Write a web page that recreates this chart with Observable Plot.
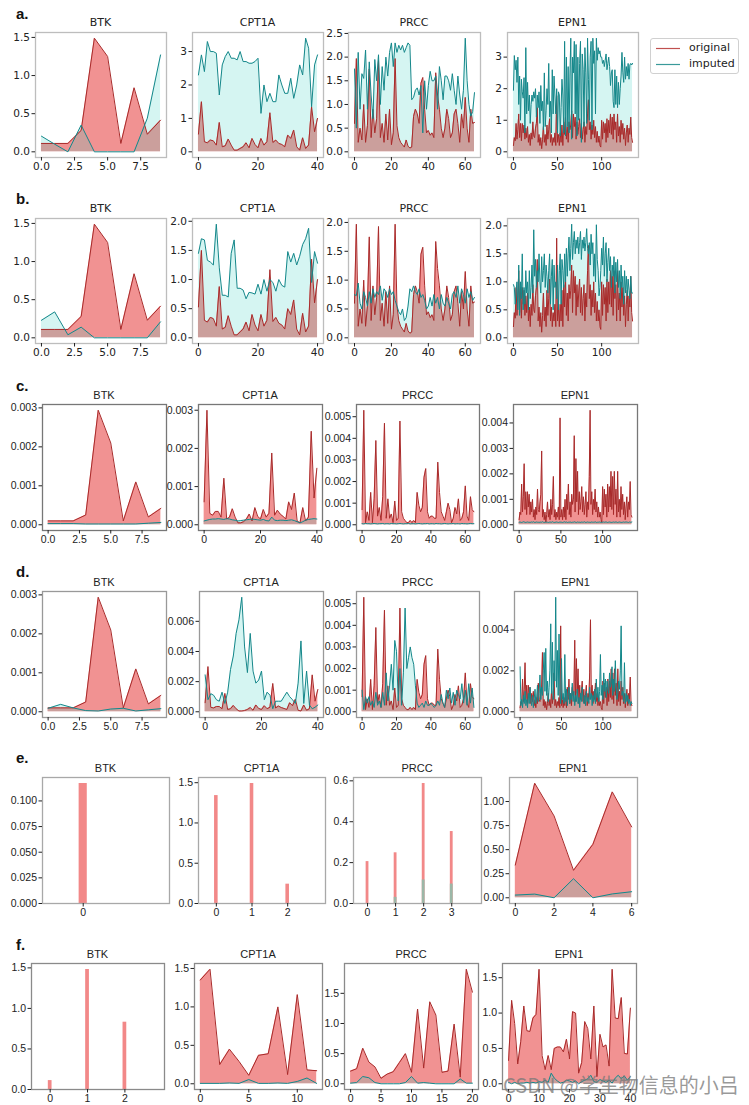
<!DOCTYPE html>
<html><head><meta charset="utf-8">
<script src="https://cdn.jsdelivr.net/npm/d3@7"></script>
<script src="https://cdn.jsdelivr.net/npm/@observablehq/plot@0.6"></script>
<style>
body{margin:0;background:#fff;}
#wrap{position:relative;width:749px;height:1105px;overflow:hidden;font-family:"DejaVu Sans",sans-serif;background:#fff;}
.panel{position:absolute;}
.ttl{position:absolute;line-height:12px;color:#222;text-align:center;}
.lbl{position:absolute;font:bold 15px "Liberation Sans",Arial,sans-serif;color:#111;}
.legend{position:absolute;border:1px solid #d0d0d0;border-radius:3px;background:#fff;font-size:11px;color:#222;font-family:"DejaVu Sans",sans-serif;}
.wm{position:absolute;font-family:"Noto Sans CJK SC",sans-serif;font-size:20px;color:rgba(120,120,120,0.75);white-space:nowrap;}
</style></head><body><div id="wrap"></div>
<script>
// ---------- labels ----------
const genes = ["BTK","CPT1A","PRCC","EPN1"];
const rowLabels = ["a.","b.","c.","d.","e.","f."];
const legendLabels = ["original","imputed"];
const watermark = "CSDN @学生物信息的小吕";

// ---------- rows a / b ----------
const btkOrigAB = [0.11,0.11,0.11,0.28,1.49,1.25,0.11,0.84,0.23,0.415];
const btkImpA   = [0.205,0.1,0,0.35,0,0,0,0,0.44,1.27];
const btkImpB   = [0.23,0.34,0.04,0.14,0,0,0,0,0,0.21];

const cptOrigAB = [0.53,1.5,0.3,0.27,0.35,0.33,0.2,0.88,0.15,0.18,
  0.38,0.2,0.05,0.05,0.1,0.15,0.27,0.12,0.4,0.22,
  0.12,0.4,0.2,0.3,1.17,0.28,0.35,0.25,0.22,0.15,
  0.5,0.4,0.65,0.15,0.05,0.42,0.1,0.2,1.35,0.6,1.0];
const cptImpA = [2.3,2.9,2.4,3.3,3.0,3.0,2.95,1.7,2.6,2.85,
  3.0,2.8,2.8,2.75,3.0,2.7,2.7,2.65,2.65,2.7,
  2.8,1.15,2.0,1.5,1.75,1.5,1.5,2.3,2.0,1.75,
  1.75,2.2,1.6,2.0,2.6,2.3,3.4,3.1,1.35,2.6,2.9];
const cptImpB = [1.45,1.7,1.68,1.33,1.3,1.25,1.95,1.2,0.73,0.73,
  0.7,1.45,1.68,0.85,0.85,0.82,0.67,0.78,0.77,0.75,
  0.92,0.75,1.0,0.8,1.0,0.95,0.8,1.0,0.9,0.87,
  1.48,1.3,1.45,1.25,1.4,1.6,1.7,1.88,0.95,1.48,1.28];

const prccOrigAB = [0.6,1.97,0.2,0.5,0.25,1.0,0.2,0.55,1.75,0.3,
  0.9,0.4,0.7,1.93,0.3,0.6,0.2,0.8,0.25,0.9,
  0.15,0.4,1.97,0.55,0.3,0.2,0.15,0.1,0.25,0.12,
  0.08,0.1,0.75,0.9,0.8,0.6,1.45,1.57,0.9,0.4,
  0.45,0.35,0.4,0.3,1.67,1.2,0.9,0.5,0.3,0.5,
  0.9,0.7,0.3,0.4,0.8,0.9,0.6,0.2,0.8,0.5,
  1.15,0.5,0.2,0.9,0.6,0.62];
const prccImpA = [1.75,0.5,2.1,0.9,1.65,1.55,2.15,0.9,1.9,1.2,
  0.7,1.95,1.5,2.05,1.0,1.8,1.3,2.0,1.6,2.1,
  2.3,1.8,2.3,2.1,2.25,2.15,2.25,2.1,2.2,2.3,
  2.25,1.1,1.15,1.3,1.35,1.2,1.4,0.4,1.5,0.9,
  1.4,1.7,1.5,1.5,1.6,0.9,1.8,1.5,1.1,1.6,
  1.6,1.5,1.3,1.65,1.3,1.0,1.6,1.2,0.9,1.3,
  2.4,1.5,1.0,0.75,0.85,1.25];
const prccImpB = [0.75,0.73,0.95,0.6,0.5,0.8,0.7,0.55,0.8,0.6,
  0.85,0.7,0.8,0.75,0.9,0.65,0.85,0.8,0.7,0.85,
  0.75,0.8,0.65,0.55,0.45,0.4,0.5,0.3,0.35,0.55,
  0.85,0.8,0.9,0.8,0.75,0.85,0.7,0.75,0.65,0.5,
  0.55,0.7,0.55,0.75,0.6,0.7,0.5,0.75,0.6,0.55,
  0.7,0.6,0.5,0.75,0.8,0.7,0.9,0.6,0.85,0.75,
  0.6,0.85,0.7,0.8,0.65,0.7];

const epnOrigAB = [0.2,0.45,0.35,0.9,0.4,0.7,1.2,0.45,0.9,0.35,
  0.9,0.6,0.85,0.4,0.75,0.45,0.8,0.3,0.55,0.2,
  0.6,0.4,0.95,0.5,0.45,0.75,0.9,1.4,0.3,0.55,
  0.2,0.45,0.1,0.4,0.8,0.3,0.55,0.2,0.85,0.4,
  0.7,1.05,0.3,0.55,0.2,0.45,0.3,0.6,0.2,1.78,
  0.3,0.55,0.2,0.6,0.3,0.85,0.2,0.95,0.55,1.1,
  0.4,0.8,0.3,0.95,0.7,0.85,1.3,0.45,1.2,0.8,
  1.1,0.4,0.95,0.55,0.8,1.05,0.45,0.9,0.4,0.7,
  0.95,0.3,0.8,0.55,1.2,1.65,0.7,0.95,0.4,0.85,
  0.55,1.0,0.45,0.8,0.3,0.65,0.3,0.5,0.2,0.15,
  1.0,0.4,0.95,0.6,0.9,0.3,1.05,0.45,1.0,0.6,
  1.2,0.55,1.1,0.4,1.2,0.7,0.95,0.3,1.2,0.5,
  0.8,0.3,1.0,0.55,0.9,0.4,0.75,0.2,0.6,0.85,
  0.3,0.75,0.55,1.1,0.45,0.3];
const epnImpA = [1.95,3.05,2.6,2.9,2.2,3.0,1.5,2.4,1.0,2.3,
  1.9,1.7,2.35,0.6,3.3,1.2,2.2,1.3,1.8,0.9,
  1.5,1.8,1.6,1.9,1.7,2.0,1.1,1.8,1.4,1.9,
  0.9,2.1,1.3,1.6,0.7,2.5,0.8,1.3,2.0,1.5,
  2.8,1.1,1.6,0.6,2.6,1.2,2.4,1.8,1.2,2.0,
  0.6,1.9,1.8,0.5,1.4,2.3,1.8,0.6,3.5,0.5,
  3.0,0.8,2.7,0.6,2.4,3.6,0.4,3.0,2.5,3.5,
  1.2,3.4,0.5,3.0,1.0,2.8,3.5,0.3,3.1,2.6,
  0.8,3.3,2.5,0.9,3.6,2.3,1.0,3.0,3.5,0.7,
  3.6,2.8,3.2,1.2,3.6,2.9,3.3,3.1,3.2,3.0,
  3.0,2.8,2.9,2.7,2.9,3.1,2.6,2.8,3.0,2.7,
  2.1,2.5,2.6,1.6,1.4,2.6,1.5,2.4,1.4,2.2,
  1.5,2.0,2.4,3.15,2.5,2.2,3.0,2.3,2.7,2.4,
  2.8,2.3,2.75,2.8,2.75,2.8];
const epnImpB = [0.95,0.9,0.6,0.85,1.0,0.5,1.3,0.4,1.0,0.7,
  1.5,0.5,0.9,0.6,1.2,0.8,1.0,0.5,1.2,0.7,
  0.9,1.3,0.8,1.93,1.1,1.4,0.9,1.2,1.0,1.5,
  1.0,0.8,1.45,1.0,1.2,1.5,0.9,1.3,1.1,0.8,
  1.2,1.5,0.6,1.1,1.4,0.5,1.3,0.9,1.0,0.7,
  1.3,0.5,1.2,1.5,0.6,1.4,1.2,0.9,1.5,1.0,
  1.6,1.1,1.5,1.8,1.2,1.6,2.03,1.4,1.7,1.9,
  1.5,1.75,1.6,1.8,1.5,1.7,1.9,1.4,1.75,1.6,
  1.8,1.55,1.7,1.95,1.6,1.5,1.7,1.3,1.85,1.5,
  1.7,1.1,1.5,1.0,2.02,1.4,1.2,0.75,0.9,1.2,
  1.6,1.3,1.8,1.1,1.5,1.7,1.0,1.35,1.6,1.2,
  1.45,0.9,1.3,1.1,1.45,0.8,1.35,1.0,1.4,0.9,
  1.2,0.7,1.3,0.9,1.1,0.6,1.2,0.8,1.1,0.75,
  1.05,0.85,0.7,1.1,0.8,0.8];

// ---------- rows c / d ----------
const btkOrigCD = [.0001,.0001,.0001,.00025,.00294,.0021,.0001,.0011,.0002,.00042];
const btkImpC   = [.00003,.00003,.00003,.00002,.00002,.00002,.00002,.00002,.00004,.00006];
const btkImpD   = [.00009,.00019,.0001,.00003,.00002,.00007,.00009,.00002,.00005,.00008];

const cptOrigCD = [.0006,.003,.0003,.00025,.00035,.00035,.0002,.00122,.00015,.0002,
  .00042,.0002,.00005,.00005,.00008,.00015,.00028,.0001,.00045,.00022,
  .00015,.0004,.0002,.0003,.00188,.00025,.00038,.00028,.00022,.00015,
  .0006,.0004,.00083,.0001,.00005,.00045,.0001,.0002,.00245,.0007,.00148];
const cptImpC = [.0001,.00012,.00014,.00015,.00015,.00016,.00015,.00014,.00016,.00015,
  .00013,.00012,.0001,.00011,.00012,.00013,.00014,.00015,.00014,.00013,
  .00012,.00014,.00011,.0001,.0002,.00012,.00011,.00012,.00012,.00011,
  .00012,.00013,.00011,.00008,.00005,.00008,.00012,.00014,.00015,.00016,.00015];
const cptImpD = [.00245,.0008,.0012,.0011,.0008,.0007,.0013,.00055,.0013,.0028,
  .0037,.0052,.0061,.0076,.0043,.0026,.0052,.0027,.0019,.0021,
  .0027,.0008,.0013,.0011,.0002,.0007,.0007,.0007,.001,.0013,
  .001,.0008,.00055,.0019,.0047,.00055,.0027,.00045,.0002,.0003,.00045];

const prccOrigCD = [.0007,.0053,.0001,.0006,.0002,.0015,.0001,.0012,.0039,.0004,
  .0008,.0002,.0013,.0047,.0003,.0012,.0003,.0005,.0001,.0011,
  .0002,.0003,.0048,.0006,.0003,.0002,.0001,.0001,.0002,.0001,
  .0002,.0001,.0015,.0009,.0006,.0008,.0022,.0026,.0006,.0003,
  .0004,.0004,.0003,.0003,.0029,.0015,.0006,.0004,.0002,.0006,
  .0010,.0007,.0001,.0003,.0008,.0005,.0012,.0002,.0003,.0006,
  .0018,.0004,.0002,.0013,.0007,.0006];
const prccImpC = [.00005,.00004,.00006,.00005,.00005,.00004,.00005,.00006,.00005,.00004,
  .00005,.00005,.00006,.00004,.00005,.00005,.00004,.00006,.00005,.00005,
  .00004,.00005,.00006,.00005,.00004,.00005,.00005,.00006,.00004,.00005,
  .00005,.00004,.00005,.00006,.00005,.00004,.00005,.00005,.00006,.00004,
  .00005,.00005,.00004,.00006,.00005,.00005,.00004,.00005,.00006,.00005,
  .00004,.00005,.00005,.00006,.00004,.00005,.00005,.00004,.00006,.00005,
  .00005,.00004,.00005,.00006,.00005,.00005];
const prccImpD = [.001,.0001,.0007,.0004,.0007,.0003,.0005,.0002,.0009,.0003,
  .0005,.0002,.0009,.0003,.0018,.0005,.0012,.0022,.0010,.0033,
  .0028,.0005,.0020,.0003,.0018,.0048,.0020,.0025,.0030,.0025,
  .0022,.0012,.0004,.0002,.0003,.0004,.0002,.0005,.0003,.0003,
  .0004,.0003,.0002,.0003,.0005,.0003,.0008,.0004,.0002,.0010,
  .0006,.0011,.0004,.0009,.0003,.0010,.0008,.0006,.0013,.0004,
  .0010,.0003,.0013,.0004,.0011,.0002];

const epnOrigCD = [.0002,.0005,.0004,.0016,.0005,.0011,.0024,.0006,.0013,.0004,
  .0013,.0007,.0012,.0004,.0009,.0005,.0010,.0003,.0006,.0002,
  .0007,.0004,.0014,.0006,.0005,.0009,.0012,.0029,.0003,.0006,
  .0002,.0005,.0001,.0004,.0009,.0003,.0006,.0002,.0010,.0004,
  .0008,.0019,.0003,.0006,.0002,.0005,.0003,.0007,.0002,.0042,
  .0003,.0006,.0002,.0007,.0003,.0010,.0002,.0012,.0006,.0016,
  .0004,.0009,.0003,.0012,.0008,.0010,.0035,.0005,.0026,.0009,
  .0021,.0004,.0013,.0006,.0009,.0015,.0005,.0011,.0004,.0008,
  .0013,.0003,.0009,.0006,.0019,.0045,.0008,.0013,.0004,.0010,
  .0006,.0014,.0005,.0009,.0003,.0007,.0003,.0005,.0002,.0001,
  .0015,.0004,.0014,.0007,.0012,.0003,.0016,.0005,.0015,.0007,
  .0021,.0006,.0019,.0004,.0021,.0008,.0014,.0003,.0021,.0005,
  .0010,.0003,.0015,.0006,.0012,.0004,.0009,.0002,.0007,.0011,
  .0003,.0009,.0006,.0017,.0004,.0003];
const epnImpC = [.0001,.00011,.0001,.00009,.0001,.00012,.00011,.0001,.00009,.0001,
  .00011,.0001,.0001,.00009,.0001,.00011,.0001,.00012,.0001,.00009,
  .0001,.00011,.0001,.0001,.00009,.00011,.0001,.0001,.00012,.0001,
  .00009,.0001,.00011,.0001,.0001,.00009,.0001,.00011,.0001,.0001,
  .00012,.0001,.00009,.0001,.0001,.00011,.0001,.00009,.0001,.00011,
  .0001,.0001,.00009,.0001,.00012,.0001,.0001,.00011,.00009,.0001,
  .0001,.00011,.0001,.00009,.0001,.0001,.00012,.0001,.0001,.00009,
  .00011,.0001,.0001,.0001,.00009,.00011,.0001,.0001,.00012,.0001,
  .00009,.0001,.00011,.0001,.0001,.00009,.0001,.00011,.0001,.0001,
  .0001,.00012,.0001,.00009,.0001,.0001,.00011,.0001,.0001,.00009,
  .0001,.00011,.0001,.0001,.00012,.0001,.00009,.0001,.00011,.0001,
  .0001,.00009,.0001,.00011,.0001,.0001,.00012,.0001,.00009,.0001,
  .00011,.0001,.0001,.00009,.0001,.00011,.0001,.0001,.00012,.0001,
  .0001,.00009,.00011,.0001,.0001,.00011];
const epnImpD = [.0022,.0003,.0006,.0002,.0008,.0004,.0010,.0003,.0006,.0002,
  .0009,.0004,.0012,.0005,.0003,.0008,.0002,.0006,.0011,.0004,
  .0007,.0013,.0005,.0009,.0018,.0006,.0012,.0008,.0020,.0029,
  .0010,.0031,.0008,.0015,.0005,.0012,.0020,.0043,.0009,.0034,
  .0006,.0025,.0015,.0056,.0012,.0030,.0008,.0038,.0010,.0004,
  .0026,.0006,.0009,.0004,.0028,.0005,.0011,.0003,.0008,.0012,
  .0004,.0009,.0006,.0014,.0005,.0010,.0003,.0008,.0005,.0011,
  .0004,.0007,.0002,.0009,.0005,.0012,.0006,.0004,.0008,.0003,
  .0010,.0005,.0007,.0004,.0012,.0006,.0009,.0003,.0008,.0005,
  .0011,.0004,.0016,.0007,.0012,.0005,.0010,.0028,.0008,.0013,
  .0006,.0019,.0010,.0016,.0007,.0015,.0011,.0009,.0019,.0012,
  .0014,.0022,.0008,.0016,.0010,.0025,.0013,.0006,.0009,.0015,
  .0011,.0020,.0042,.0008,.0010,.0005,.0024,.0004,.0009,.0005,
  .0008,.0004,.0006,.0003,.0005,.0004];

// ---------- row e ----------
const btkOrigE = [0.117];
const btkImpE  = [0];
const cptOrigE = [1.34,1.49,0.24];
const cptImpE  = [0,0,0];
const prccOrigE = [0.205,0.248,0.587,0.352];
const prccImpE  = [0,0.03,0.115,0.095];
const epnOrigE = [0.34,1.19,0.85,0.285,0.555,1.10,0.736];
const epnImpE  = [0.028,0.038,0,0.198,0,0.04,0.063];

// ---------- row f ----------
const btkOrigF = [0.11,1.48,0.83];
const btkImpF  = [0,0,0];
const cptOrigF = [1.35,1.49,0.25,0.45,0.29,0.11,0.37,0.39,1.0,0.12,1.16,0.18,0.17];
const cptImpF  = [0.005,0.005,0.005,0.01,0.005,0.055,0.005,0.005,0.01,0.005,0.03,0.075,0.005];
const prccOrigF = [0.21,0.25,0.59,0.36,0.28,0.09,0.16,0.2,0.35,0.5,0.19,1.24,0.26,1.36,1.14,0.19,0.21,0.99,0.11,1.9,1.52];
const prccImpF  = [0.01,0.02,0.12,0.1,0.02,0,0,0,0,0.02,0.12,0.01,0.02,0.01,0,0,0,0,0.08,0.01,0.01];
const epnOrigF = [0.33,1.18,0.85,0.28,0.6,1.1,0.75,0.74,0.93,0.98,
  1.62,0.4,0.2,0.4,0.2,0.5,0.52,0.52,0.45,0.63,
  0.35,1.02,1.0,0.15,0.3,0.88,0.78,0.35,1.1,0.1,
  0.7,0.52,0.55,0.25,1.62,0.93,0.92,1.22,0.43,0.42,1.07];
const epnImpF = [0.02,0,0.02,0,0.01,0.01,0.02,0.01,0.02,0.01,
  0.03,0.02,0.05,0.02,0.15,0.08,0.04,0.01,0.02,0.05,
  0.04,0.02,0.04,0,0.03,0.05,0.07,0.12,0.03,0.02,
  0.06,0.04,0.02,0.05,0.01,0.08,0.12,0.07,0.11,0.05,0.1];

// ---------- tick values ----------
const xtBTK = [0,2.5,5,7.5], xtCPT = [0,20,40], xtPRCC = [0,20,40,60], xtEPN = [0,50,100];
const ytA = [[0,0.5,1,1.5],[0,1,2,3],[0,0.5,1,1.5,2,2.5],[0,1,2,3]];
const ytB = [[0,0.5,1,1.5],[0,0.5,1,1.5,2],[0,0.5,1,1.5,2],[0,0.5,1,1.5,2]];
const ytC = [[0,.001,.002,.003],[0,.001,.002,.003],[0,.001,.002,.003,.004,.005],[0,.001,.002,.003,.004]];
const ytD = [[0,.001,.002,.003],[0,.002,.004,.006],[0,.001,.002,.003,.004,.005],[0,.002,.004]];
const ytE = [[0,.025,.05,.075,.1],[0,0.5,1,1.5],[0,0.2,0.4,0.6],[0,0.25,0.5,0.75,1]];
const ytF = [[0,0.5,1,1.5],[0,0.5,1,1.5],[0,0.5,1,1.5],[0,0.5,1,1.5]];
const xtE = [[0],[0,1,2],[0,1,2,3],[0,2,4,6]];
const xtF = [[0,1,2],[0,5,10],[0,5,10,15,20],[0,10,20,30,40]];

// ---------- styling / layout ----------
const CYAN = "#d5f5f2", PINK = "#f19292", ROSY = "#cb9f9c", RED = "#a82a2a", TEAL = "#14878a";
const BAR = "#f28888", BAR_IMP = "#9bb7a7";
const FONT_AB = "DejaVu Sans", FONT_CF = "Liberation Sans";
const ROWS = [
  {top:32,  bottom:157, lefts:[35,192,348,507], rights:[166,323,480,638], ly:5,   frame:"#bdbdbd", font:FONT_AB, fs:10.5, ts:11},
  {top:218, bottom:343, lefts:[35,192,348,507], rights:[166,323,480,638], ly:190, frame:"#bdbdbd", font:FONT_AB, fs:10.5, ts:11},
  {top:404, bottom:530, lefts:[42,198,356,513], rights:[166,322,479,637], ly:377, frame:"#777777", font:FONT_CF, fs:10.5, ts:11},
  {top:591, bottom:717, lefts:[42,199,356,514], rights:[166,323,479,637], ly:563, frame:"#999999", font:FONT_CF, fs:10.5, ts:11},
  {top:777, bottom:903, lefts:[42,198,353,509], rights:[169,325,481,637], ly:749, frame:"#a8a8a8", font:FONT_CF, fs:10.5, ts:11},
  {top:963, bottom:1089,lefts:[31,194,344,502], rights:[164,322,478,636], ly:936, frame:"#8a8a8a", font:FONT_CF, fs:10.5, ts:11}
];

const panels = [
  [ {o:btkOrigAB,i:btkImpA,xt:xtBTK,xf:".1f",yt:ytA[0],yf:".1f"},
    {o:cptOrigAB,i:cptImpA,xt:xtCPT,xf:"d",yt:ytA[1],yf:"d"},
    {o:prccOrigAB,i:prccImpA,xt:xtPRCC,xf:"d",yt:ytA[2],yf:".1f"},
    {o:epnOrigAB,i:epnImpA,xt:xtEPN,xf:"d",yt:ytA[3],yf:"d"} ],
  [ {o:btkOrigAB,i:btkImpB,xt:xtBTK,xf:".1f",yt:ytB[0],yf:".1f"},
    {o:cptOrigAB,i:cptImpB,xt:xtCPT,xf:"d",yt:ytB[1],yf:".1f"},
    {o:prccOrigAB,i:prccImpB,xt:xtPRCC,xf:"d",yt:ytB[2],yf:".1f"},
    {o:epnOrigAB,i:epnImpB,xt:xtEPN,xf:"d",yt:ytB[3],yf:".1f"} ],
  [ {o:btkOrigCD,i:btkImpC,xt:xtBTK,xf:".1f",yt:ytC[0],yf:".3f"},
    {o:cptOrigCD,i:cptImpC,xt:xtCPT,xf:"d",yt:ytC[1],yf:".3f"},
    {o:prccOrigCD,i:prccImpC,xt:xtPRCC,xf:"d",yt:ytC[2],yf:".3f"},
    {o:epnOrigCD,i:epnImpC,xt:xtEPN,xf:"d",yt:ytC[3],yf:".3f"} ],
  [ {o:btkOrigCD,i:btkImpD,xt:xtBTK,xf:".1f",yt:ytD[0],yf:".3f"},
    {o:cptOrigCD,i:cptImpD,xt:xtCPT,xf:"d",yt:ytD[1],yf:".3f"},
    {o:prccOrigCD,i:prccImpD,xt:xtPRCC,xf:"d",yt:ytD[2],yf:".3f"},
    {o:epnOrigCD,i:epnImpD,xt:xtEPN,xf:"d",yt:ytD[3],yf:".3f"} ],
  [ {bar:true,o:btkOrigE,i:btkImpE,xt:xtE[0],xf:"d",yt:ytE[0],yf:".3f"},
    {bar:true,o:cptOrigE,i:cptImpE,xt:xtE[1],xf:"d",yt:ytE[1],yf:".1f"},
    {bar:true,o:prccOrigE,i:prccImpE,xt:xtE[2],xf:"d",yt:ytE[2],yf:".1f"},
    {o:epnOrigE,i:epnImpE,xt:xtE[3],xf:"d",yt:ytE[3],yf:".2f"} ],
  [ {bar:true,o:btkOrigF,i:btkImpF,xt:xtF[0],xf:"d",yt:ytF[0],yf:".1f"},
    {o:cptOrigF,i:cptImpF,xt:xtF[1],xf:"d",yt:ytF[1],yf:".1f"},
    {o:prccOrigF,i:prccImpF,xt:xtF[2],xf:"d",yt:ytF[2],yf:".1f"},
    {o:epnOrigF,i:epnImpF,xt:xtF[3],xf:"d",yt:ytF[3],yf:".1f"} ]
];

const wrap = document.getElementById("wrap");
const ML = 50, MR = 4, MT = 4, MB = 22;
let clipId = 0;

// overlap of the two filled areas: the original area, clipped to the imputed area
function addOverlap(svg) {
  const areas = svg.querySelectorAll('g[aria-label="area"]');
  if (areas.length < 2) return;
  const gi = areas[0], go = areas[1];
  const pi = gi.querySelector("path");
  if (!pi) return;
  const ns = "http://www.w3.org/2000/svg";
  const defs = document.createElementNS(ns, "defs");
  const cp = document.createElementNS(ns, "clipPath");
  const id = "ovclip" + (clipId++);
  cp.setAttribute("id", id);
  const cpath = document.createElementNS(ns, "path");
  cpath.setAttribute("d", pi.getAttribute("d"));
  cp.appendChild(cpath);
  defs.appendChild(cp);
  svg.appendChild(defs);
  const clone = go.cloneNode(true);
  clone.setAttribute("fill", ROSY);
  clone.querySelectorAll("path").forEach(p => { p.setAttribute("fill", ROSY); p.setAttribute("clip-path", `url(#${id})`); });
  go.parentNode.insertBefore(clone, go.nextSibling);
}

panels.forEach((row, r) => {
  const R = ROWS[r];
  const lab = document.createElement("div");
  lab.className = "lbl"; lab.textContent = rowLabels[r];
  lab.style.left = "16px"; lab.style.top = R.ly + "px";
  wrap.appendChild(lab);
  row.forEach((spec, c) => {
    const L = R.lefts[c], Rt = R.rights[c];
    const fw = Rt - L, fh = R.bottom - R.top;
    const n = spec.o.length;
    const data = spec.o.map((v, k) => ({x: k, o: v, m: spec.i[k]}));
    const ymax = d3.max([...spec.o, ...spec.i]);
    let xdom, ydom;
    const marks = [];
    if (spec.bar) {
      xdom = [-0.5, n + 0.06];
      ydom = [0, ymax * 1.05];
      marks.push(Plot.rectY(data, {x1: d => d.x - 0.05, x2: d => d.x + 0.05, y1: 0, y2: "o", fill: BAR}));
      marks.push(Plot.rectY(data.filter(d => d.m > 0), {x1: d => d.x - 0.05, x2: d => d.x + 0.05, y1: 0, y2: "m", fill: BAR_IMP}));
    } else {
      const last = n - 1;
      xdom = [-0.05 * last, last * 1.05];
      ydom = [-0.05 * ymax, ymax * 1.05];
      marks.push(Plot.areaY(data, {x: "x", y: "m", fill: CYAN}));
      marks.push(Plot.areaY(data, {x: "x", y: "o", fill: PINK}));
      marks.push(Plot.lineY(data, {x: "x", y: "o", stroke: RED, strokeWidth: 1}));
      marks.push(Plot.lineY(data, {x: "x", y: "m", stroke: TEAL, strokeWidth: 1}));
    }
    marks.push(Plot.frame({stroke: R.frame, strokeWidth: 1.3}));
    marks.push(Plot.axisX({ticks: spec.xt, tickFormat: d3.format(spec.xf), tickSize: 3.5, tickPadding: 2, label: null}));
    marks.push(Plot.axisY({ticks: spec.yt, tickFormat: d3.format(spec.yf), tickSize: 3.5, tickPadding: 2, label: null}));
    const svg = Plot.plot({
      width: fw + ML + MR, height: fh + MT + MB,
      marginLeft: ML, marginRight: MR, marginTop: MT, marginBottom: MB,
      x: {domain: xdom}, y: {domain: ydom},
      style: {fontFamily: R.font, fontSize: R.fs + "px", color: "#222", background: "transparent", overflow: "visible"},
      marks
    });
    if (!spec.bar) addOverlap(svg);
    const div = document.createElement("div");
    div.className = "panel";
    div.style.left = (L - ML) + "px"; div.style.top = (R.top - MT) + "px";
    div.appendChild(svg);
    wrap.appendChild(div);
    const t = document.createElement("div");
    t.className = "ttl"; t.textContent = genes[c];
    t.style.fontFamily = R.font; t.style.fontSize = R.ts + "px";
    t.style.left = L + "px"; t.style.width = fw + "px"; t.style.top = (R.top - 15) + "px";
    wrap.appendChild(t);
  });
});

// legend
const lg = document.createElement("div");
lg.className = "legend";
lg.style.left = "650px"; lg.style.top = "38px"; lg.style.width = "87px"; lg.style.height = "34px";
const legColors = ["#c0504f", "#3a9a9a"];
legendLabels.forEach((lab, k) => {
  const rowDiv = document.createElement("div");
  rowDiv.style.position = "absolute"; rowDiv.style.left = "4px"; rowDiv.style.top = (2 + k * 16) + "px";
  rowDiv.style.height = "14px"; rowDiv.style.lineHeight = "14px"; rowDiv.style.whiteSpace = "nowrap";
  rowDiv.innerHTML = `<svg width="26" height="14" style="vertical-align:top"><line x1="1" x2="25" y1="7.5" y2="7.5" stroke="${legColors[k]}" stroke-width="1.2"/></svg><span style="margin-left:8px">${lab}</span>`;
  lg.appendChild(rowDiv);
});
wrap.appendChild(lg);

// watermark
const wm = document.createElement("div");
wm.className = "wm"; wm.textContent = watermark;
wm.style.left = "503px"; wm.style.top = "1070px";
wrap.appendChild(wm);
</script></body></html>
